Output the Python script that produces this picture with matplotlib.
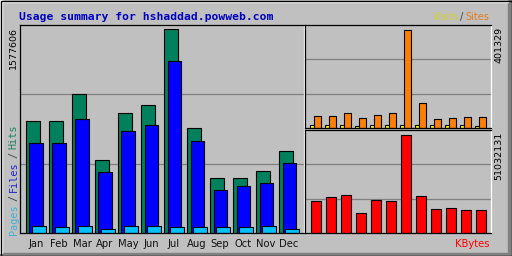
import numpy as np
import matplotlib
matplotlib.use('Agg')
import matplotlib.pyplot as plt
from matplotlib.patches import Rectangle

months = ['Jan', 'Feb', 'Mar', 'Apr', 'May', 'Jun', 'Jul', 'Aug', 'Sep', 'Oct', 'Nov', 'Dec']
hits = [866000, 866000, 1075000, 564000, 925000, 987000, 1577606, 809000, 423000, 423000, 477000, 632000]
files = [696000, 696000, 881000, 469000, 789000, 833000, 1330000, 711000, 332000, 363000, 387000, 539000]
pages = [54000, 44000, 52000, 31000, 52000, 54000, 44000, 44000, 44000, 44000, 52000, 29000]
visits = [12000, 12000, 12000, 9000, 12000, 12000, 14000, 12000, 12000, 12000, 12000, 9000]
sites = [49000, 49000, 61000, 41000, 53000, 61000, 401329, 102000, 37000, 41000, 45000, 45000]
kbytes = [16663000, 18920000, 19788000, 10415000, 17358000, 16663000, 51032131,
          19267000, 12498000, 13018000, 11977000, 11977000]

BG = '#c0c0c0'
GRID = '#808080'
C_HITS, C_FILES, C_PAGES = '#00805c', '#0000ff', '#00c0ff'
C_VISITS, C_SITES, C_KB = '#ffff00', '#ff8000', '#ff0000'

W, H = 512, 256
fig = plt.figure(figsize=(W / 100, H / 100), dpi=100, facecolor=BG)


def rect(x0, y0, x1, y1):
    # pixel box (y from top) -> axes rect in figure fraction
    return [x0 / W, 1 - y1 / H, (x1 - x0) / W, (y1 - y0) / H]


def fx(x):
    return x / W


def fy(y):
    return 1 - y / H


def panel(r, top, xlim):
    ax = fig.add_axes(r)
    ax.set_facecolor(BG)
    ax.set_xlim(*xlim)
    ax.set_ylim(0, top)
    ax.set_xticks([])
    ax.set_yticks([])
    for f in (1 / 3, 2 / 3):
        ax.plot([0, 1], [f, f], color=GRID, lw=0.9, transform=ax.transAxes, zorder=0)
    for s in ax.spines.values():
        s.set_color('black')
        s.set_linewidth(0.9)
    ax.spines['right'].set_color('white')
    return ax


x = np.arange(12)
kw = dict(edgecolor='black', linewidth=0.8)

# main panel: hits / files / pages
ax = panel(rect(20, 25, 304, 233), max(hits) / 0.98, (-0.70, 11.64))
ax.bar(x - 0.14, hits, 0.58, color=C_HITS, **kw)
ax.bar(x, files, 0.58, color=C_FILES, **kw)
ax.bar(x + 0.12, pages, 0.58, color=C_PAGES, **kw)

# top right: visits / sites
ax2 = panel(rect(305, 25, 491, 128), max(sites) / 0.95, (-0.72, 11.68))
ax2.bar(x - 0.16, visits, 0.47, color=C_VISITS, **kw)
ax2.bar(x + 0.13, sites, 0.47, color=C_SITES, **kw)

# bottom right: kbytes
ax3 = panel(rect(305, 130, 491, 233), max(kbytes) / 0.95, (-0.72, 11.68))
ax3.bar(x, kbytes, 0.65, color=C_KB, **kw)

# month labels
for i, m in enumerate(months):
    fig.text(fx(36 + 23 * i), fy(244), m, ha='center', va='center',
             fontsize=7.2, color='#101010')

# title and legends
fig.text(fx(19), fy(19.5), 'Usage summary for hshaddad.powweb.com', ha='left',
         va='baseline', fontsize=8.2, fontweight='bold', family='DejaVu Sans Mono',
         color='#0000c0')

fig.text(fx(459), fy(17), 'Visits', ha='right', va='center', fontsize=7, color='#d0d030')
fig.text(fx(462), fy(17), '/', ha='center', va='center', fontsize=7, color='#404040')
fig.text(fx(465), fy(17), 'Sites', ha='left', va='center', fontsize=7, color='#e08020')
fig.text(fx(490), fy(244), 'KBytes', ha='right', va='center', fontsize=7.2, color=C_KB)

lx = fx(13.5)
lg = dict(rotation=90, ha='center', fontsize=7.3, family='DejaVu Sans Mono')
fig.text(lx, fy(235), 'Pages', va='bottom', color='#40b0d8', **lg)
fig.text(lx, fy(198), '/', va='center', color='#404040', **lg)
fig.text(lx, fy(192), 'Files', va='bottom', color='#2020d0', **lg)
fig.text(lx, fy(155), '/', va='center', color='#404040', **lg)
fig.text(lx, fy(149), 'Hits', va='bottom', color='#208060', **lg)

fig.text(lx, fy(27), str(max(hits)), rotation=90, ha='center', va='top', fontsize=6.8)
fig.text(fx(499), fy(27), str(max(sites)), rotation=90, ha='center', va='top', fontsize=6.8)
fig.text(fx(499), fy(132), str(max(kbytes)), rotation=90, ha='center', va='top', fontsize=6.8)

# raised outer frame
fig.patches.append(Rectangle((0, 0), 1, 3 / H, transform=fig.transFigure, color='#808080'))
fig.patches.append(Rectangle((1 - 4 / W, 0), 4 / W, 1, transform=fig.transFigure, color='#808080'))
fig.patches.append(Rectangle((0, 1 - 2 / H), 1 - 4 / W, 1.5 / H, transform=fig.transFigure, color='white'))
fig.patches.append(Rectangle((0, 3 / H), 2 / W, 1 - 3 / H, transform=fig.transFigure, color='white'))
fig.patches.append(Rectangle((0.5 / W, 0.5 / H), 1 - 1 / W, 1 - 1 / H, transform=fig.transFigure,
                             fill=False, edgecolor='black', linewidth=1.0))

fig.savefig('out.png', dpi=100, facecolor=BG)
